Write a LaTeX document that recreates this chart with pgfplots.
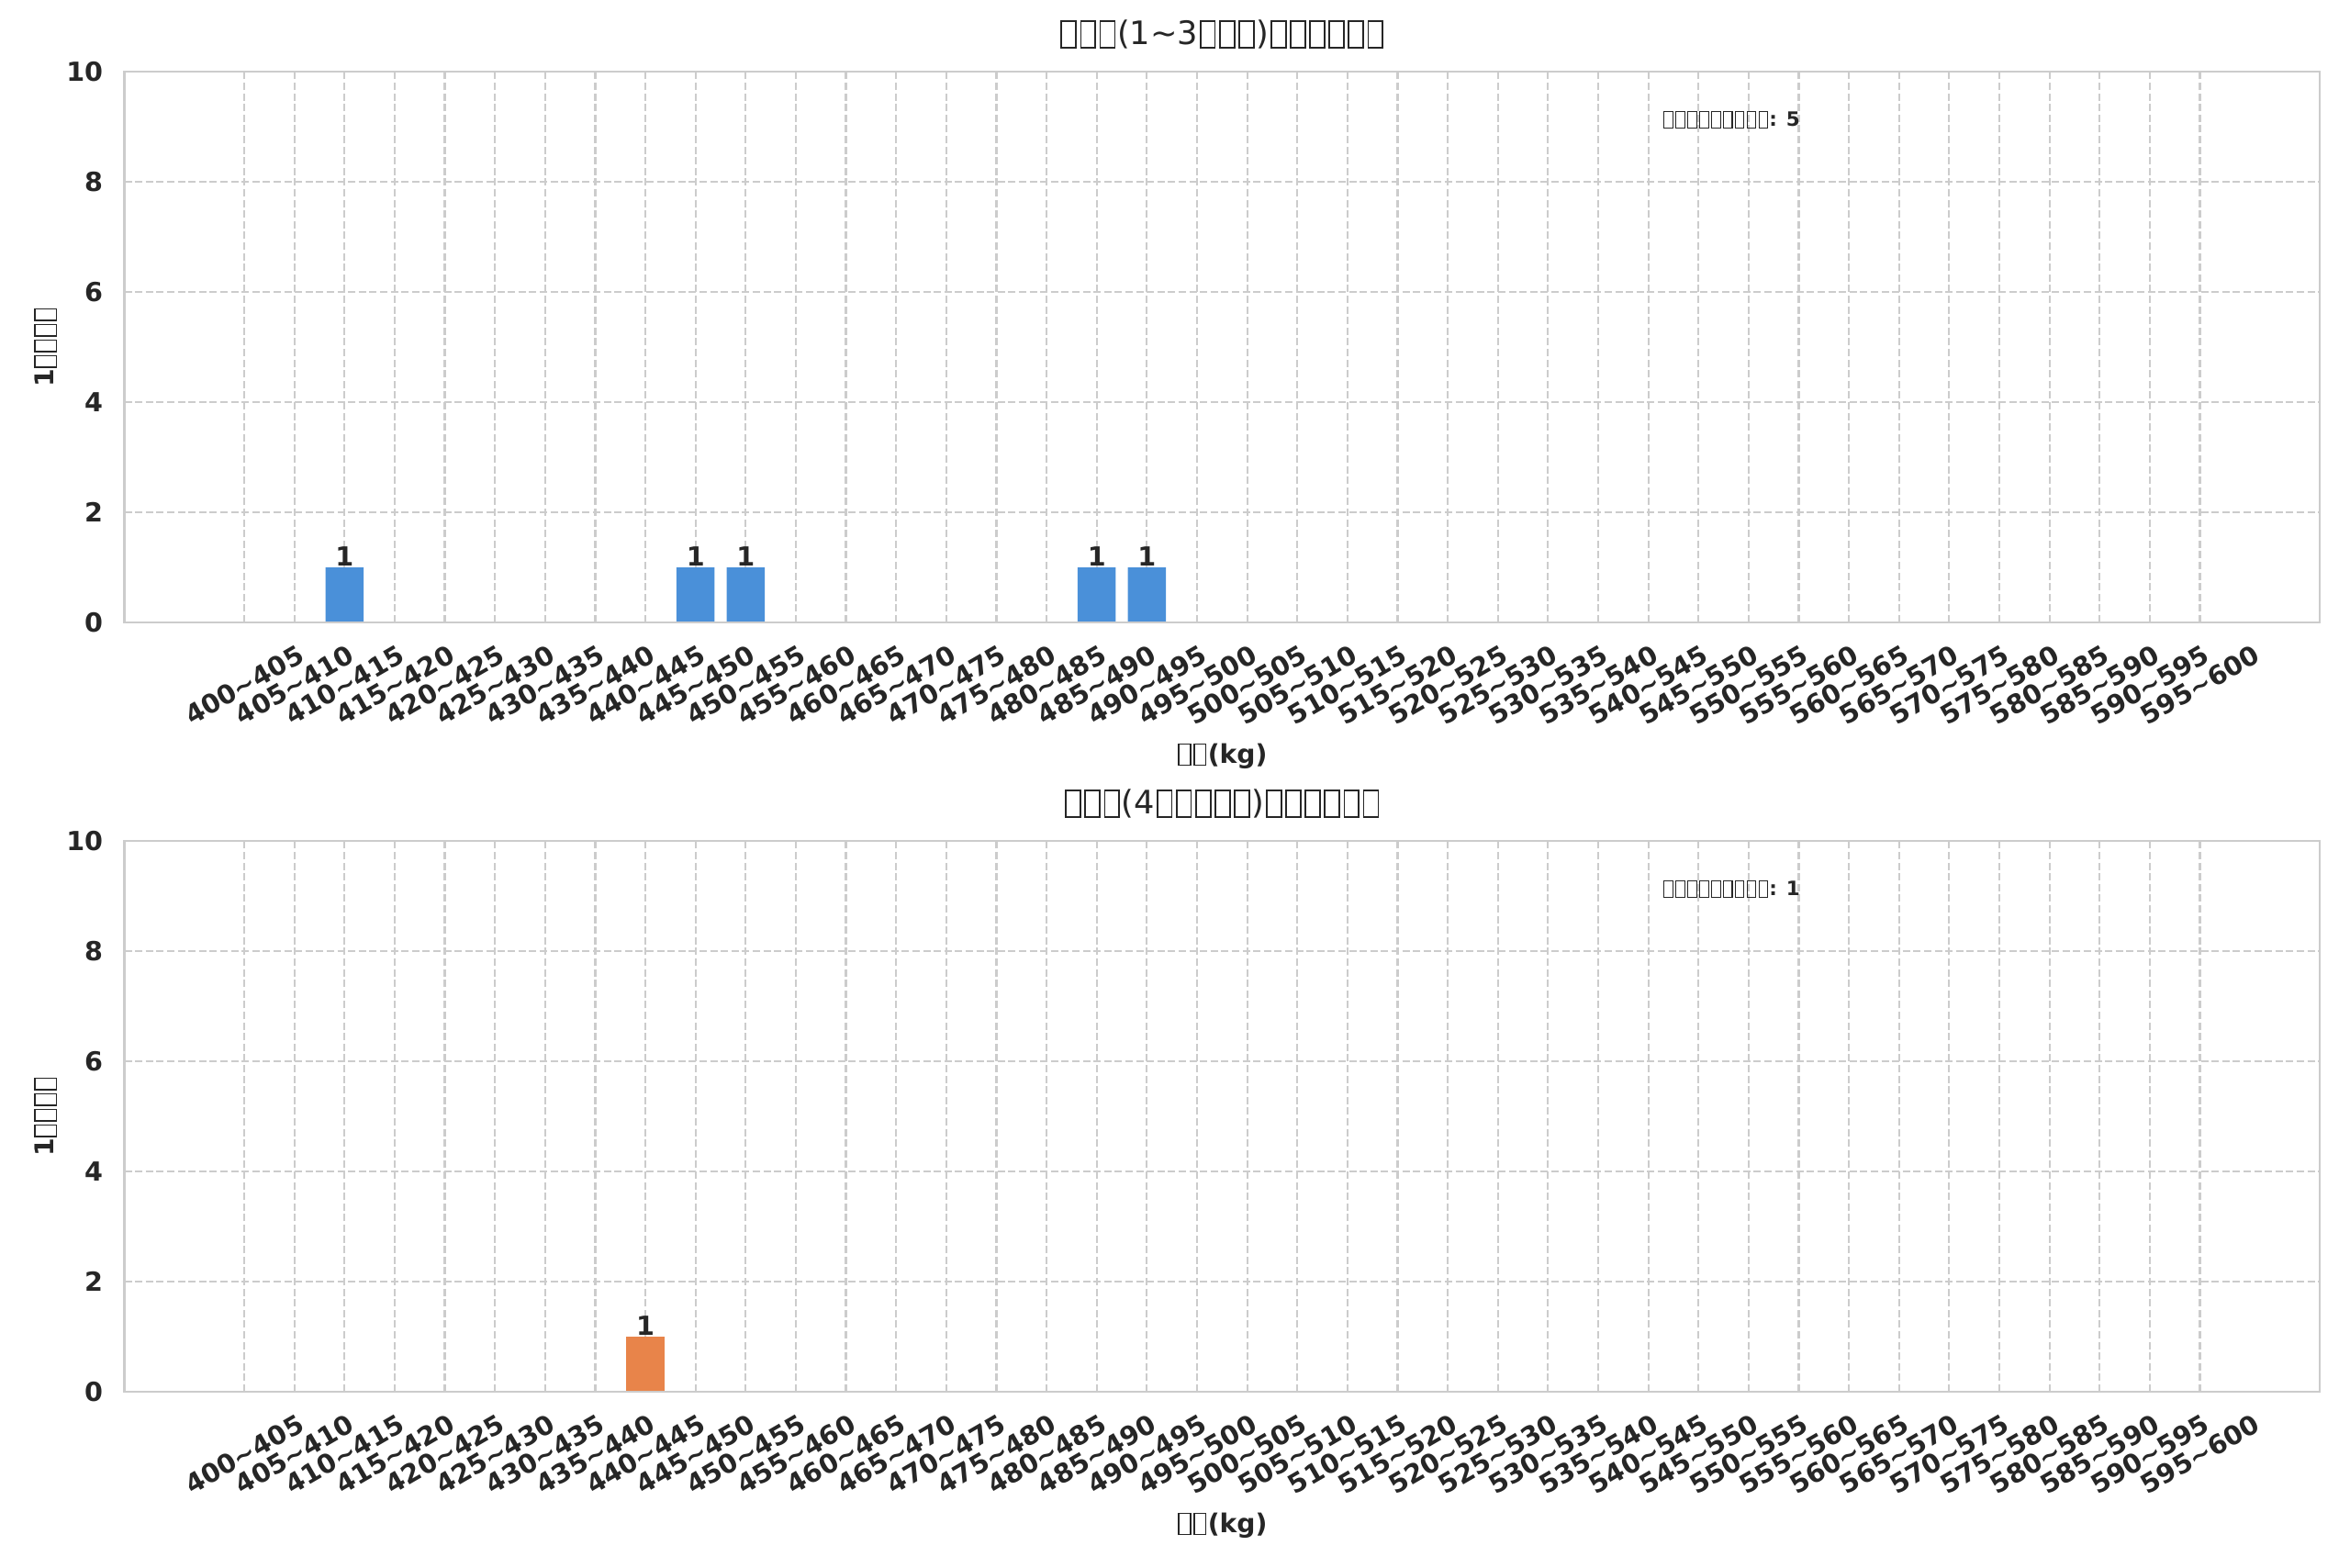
\documentclass[border=0pt]{standalone}
\usepackage{fontspec}
\setmainfont{DejaVu Sans}
\usepackage{pgfplots}
\pgfplotsset{compat=1.18}
\newlength\px \setlength\px{0.45bp}
\definecolor{txt}{HTML}{262626}
\definecolor{gridc}{HTML}{CCCCCC}
\definecolor{barblue}{HTML}{4A90D9}
\definecolor{barorange}{HTML}{E8844A}
\newcommand\fsz[1]{\fontsize{#1\px}{#1\px}\selectfont}
% missing-glyph box, as drawn in the reference
\newcommand\tofu{\hbox to 0.6em{\hss\vrule width .05em height .76em depth .12em\lower.12em\vbox to .88em{\hrule height .05em width .4em\vfill\hrule height .05em width .4em}\vrule width .05em height .76em depth .12em\hss}}
\newcommand\rg[2]{#1\textasciitilde#2}
\pgfplotsset{
  mystyle/.style={
    scale only axis, width=2391.5\px, height=600\px,
    xmin=-2.39, xmax=41.39, ymin=0, ymax=10,
    ybar, bar width=0.76,
    /pgf/number format/assume math mode=true,
    xtick={0,...,39},
    xticklabels={\rg{400}{405},\rg{405}{410},\rg{410}{415},\rg{415}{420},\rg{420}{425},\rg{425}{430},\rg{430}{435},\rg{435}{440},\rg{440}{445},\rg{445}{450},\rg{450}{455},\rg{455}{460},\rg{460}{465},\rg{465}{470},\rg{470}{475},\rg{475}{480},\rg{480}{485},\rg{485}{490},\rg{490}{495},\rg{495}{500},\rg{500}{505},\rg{505}{510},\rg{510}{515},\rg{515}{520},\rg{520}{525},\rg{525}{530},\rg{530}{535},\rg{535}{540},\rg{540}{545},\rg{545}{550},\rg{550}{555},\rg{555}{560},\rg{560}{565},\rg{565}{570},\rg{570}{575},\rg{575}{580},\rg{580}{585},\rg{585}{590},\rg{590}{595},\rg{595}{600}},
    ytick={0,2,4,6,8,10}, yticklabels={0,2,4,6,8,10},
    grid=major,
    major grid style={color=gridc, line width=2.2\px, dash pattern=on 8.1\px off 3.5\px},
    axis line style={color=gridc, line width=2.75\px},
    major tick length=0pt,
    ticklabel style={font=\bfseries\fsz{28.6}, text=txt, inner sep=0pt},
    xticklabel style={anchor=center, yshift=-68\px, rotate=30},
    yticklabel style={anchor=east, xshift=-23\px},
    title style={at={(axis description cs:0.5,1.02667)}, anchor=base, inner sep=0pt, font=\fsz{35.2}, text=txt},
    xlabel style={at={(axis description cs:0.5,-0.255)}, anchor=base, inner sep=0pt, font=\bfseries\fsz{28.2}, text=txt},
    ylabel style={at={(axis description cs:-0.03216,0.5)}, anchor=base, inner sep=0pt, font=\bfseries\fsz{28.2}, text=txt},
    xlabel={\tofu\tofu(kg)},
    ylabel={1\tofu\tofu\tofu\tofu},
    nodes near coords,
    every node near coord/.append style={font=\bfseries\fsz{28.6}, text=txt, anchor=south, inner sep=0pt, yshift=1.5\px},
  }
}
\begin{document}
\begin{tikzpicture}
\path[use as bounding box] (0,0) rectangle (2560\px,-1707\px);
\begin{axis}[mystyle, at={(135.5\px,-678\px)}, anchor=south west,
  title={\tofu\tofu\tofu(1\textasciitilde3\tofu\tofu\tofu)\tofu\tofu\tofu\tofu\tofu\tofu}]
\addplot[fill=barblue, draw=none] coordinates {(2,1) (9,1) (10,1) (17,1) (18,1)};
\draw[gridc, line width=2.75\px] (rel axis cs:0,0) -- (rel axis cs:1,0);
\node[anchor=base west, inner sep=0pt, font=\bfseries\fsz{21.5}, text=txt] at (axis description cs:0.7005,0.901) {\tofu\tofu\tofu\tofu\tofu\tofu\tofu\tofu\tofu: 5};
\end{axis}
\begin{axis}[mystyle, at={(135.5\px,-1516\px)}, anchor=south west,
  title={\tofu\tofu\tofu(4\tofu\tofu\tofu\tofu\tofu)\tofu\tofu\tofu\tofu\tofu\tofu}]
\addplot[fill=barorange, draw=none] coordinates {(8,1)};
\draw[gridc, line width=2.75\px] (rel axis cs:0,0) -- (rel axis cs:1,0);
\node[anchor=base west, inner sep=0pt, font=\bfseries\fsz{21.5}, text=txt] at (axis description cs:0.7005,0.901) {\tofu\tofu\tofu\tofu\tofu\tofu\tofu\tofu\tofu: 1};
\end{axis}
\end{tikzpicture}
\end{document}
